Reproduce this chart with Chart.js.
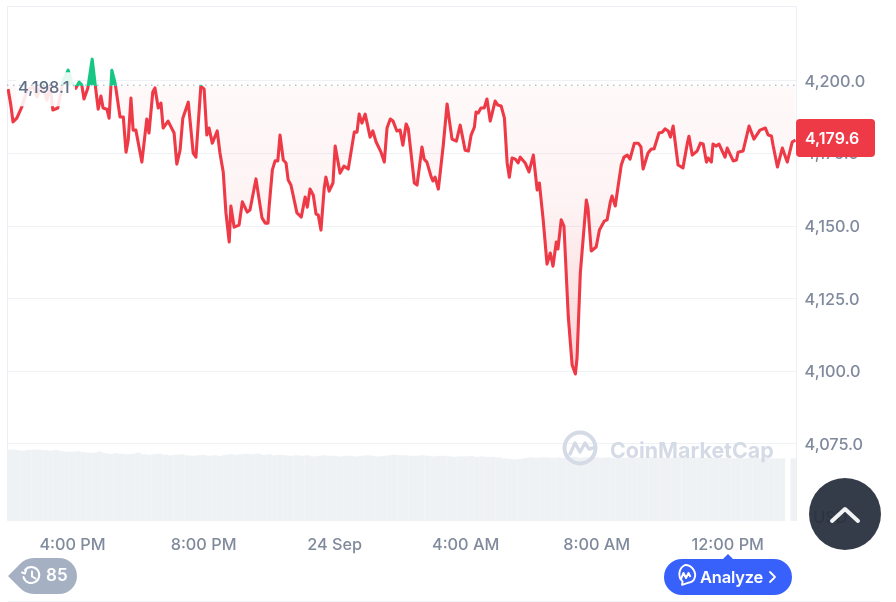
<!DOCTYPE html>
<html>
<head>
<meta charset="utf-8">
<script src="https://cdn.jsdelivr.net/npm/chart.js@4/dist/chart.umd.min.js"></script>
<style>
  html, body { margin: 0; padding: 0; background: #fff; width: 896px; height: 602px; overflow: hidden; font-family: Inter, sans-serif; }
  #wrap { position: relative; width: 896px; height: 602px; }
  canvas { position: absolute; left: 0; top: 0; }
  .abs { position: absolute; }
  #mark { left: 562px; top: 429px; width: 220px; height: 38px; color: #d5dbe6; font-weight: 700; font-size: 21.4px; line-height: 42px; }
  #mark span { position: absolute; left: 48px; top: 0; letter-spacing: 0; }
  #up { left: 809px; top: 478px; width: 72px; height: 72px; border-radius: 50%; background: rgba(45, 52, 66, 0.96); }
  #hist { left: 8px; top: 558px; }
  #hist b { position: absolute; left: 38px; top: 7px; color: #fff; font-size: 17px; font-weight: 600; line-height: 21px; }
  #ana { left: 664px; top: 553px; }
  #ana b { position: absolute; left: 36px; top: 14px; color: #fff; font-size: 16.5px; font-weight: 600; line-height: 21px; letter-spacing: -0.2px; }
  #rule { left: 8px; top: 601px; width: 872px; height: 1px; background: #eff2f5; }
</style>
</head>
<body>
<div id="wrap">
  <canvas id="chart" width="896" height="602"></canvas>
  <div id="mark" class="abs">
    <svg width="38" height="38" viewBox="0 0 38 38" style="position:absolute;left:0;top:0"><circle cx="18" cy="19" r="15.5" fill="none" stroke="#d5dbe6" stroke-width="4"/><path d="M8 25l5-11 5 9 5-9 4 6 4-1" fill="none" stroke="#d5dbe6" stroke-width="3.4" stroke-linejoin="round" stroke-linecap="round"/></svg>
    <span>CoinMarketCap</span>
  </div>
  <div id="up" class="abs">
    <svg width="72" height="72"><path d="M23 43l13-12 13 12" fill="none" stroke="#f2f3f5" stroke-width="4" stroke-linecap="round" stroke-linejoin="round"/></svg>
  </div>
  <div id="hist" class="abs">
    <svg width="70" height="36"><path d="M0 18L11 7Q17 0 26 0H51a18 18 0 0 1 0 36H26Q17 36 11 29Z" fill="#a6b0c3"/><g fill="none" stroke="#fff" stroke-width="2" stroke-linecap="round" stroke-linejoin="round"><path d="M17 12a8 8 0 1 1-1.5 7"/><path d="M14 14.5l3 1 1-3.5"/><path d="M24 13.5v5l3.5 2"/></g></svg>
    <b>85</b>
  </div>
  <div id="ana" class="abs">
    <svg width="128" height="42"><path d="M59 6l5-5 5 5Z" fill="#3861fb"/><rect x="0" y="6" width="128" height="36" rx="18" fill="#3861fb"/><path d="M21 13a10 10 0 0 1 9 14.500c-.8 1.500-4 3-6 3.300l-6 2 .6-3.400A10 10 0 0 1 21 13Z" transform="translate(0 -1)" fill="none" stroke="#fff" stroke-width="1.900" stroke-linejoin="round"/><path d="M16.500 27l3-7 2.500 5 2.500-5 2 4" fill="none" stroke="#fff" stroke-width="2" stroke-linejoin="round"/><path d="M106 19l5 5-5 5" fill="none" stroke="#fff" stroke-width="1.800" stroke-linecap="round" stroke-linejoin="round"/></svg>
    <b>Analyze</b>
  </div>
  <div id="rule" class="abs"></div>
</div>
<script>
// minutes since the left edge of the chart (2:00 PM)
const times = [2,7,11,18,27,37,48,55,64,73,79,84,93,103,112,119,126,132,137,141,148,156,161,167,172,176,183,187,192,198,207,213,218,222,227,231,236,247,256,260,267,271,277,282,286,295,306,311,317,322,332,341,346,355,361,366,370,376,385,390,396,401,407,410,416,425,431,440,445,456,467,473,478,480,486,491,496,500,506,511,515,520,531,539,546,550,555,561,566,570,575,581,584,590,597,601,610,617,625,636,641,645,650,656,665,670,676,685,691,696,702,707,714,720,725,731,735,746,751,760,764,769,777,780,784,790,799,806,815,823,830,839,845,850,856,859,863,868,874,879,885,894,899,905,911,916,920,925,931,936,940,949,956,964,971,975,982,989,995,1000,1006,1009,1015,1020,1028,1035,1041,1044,1050,1061,1064,1070,1079,1085,1094,1099,1105,1108,1114,1119,1125,1130,1136,1141,1149,1156,1161,1165,1174,1180,1185,1194,1200,1205,1211,1215,1220,1229,1238,1246,1249,1255,1264,1270,1275,1281,1284,1290,1293,1299,1304,1315,1319,1330,1336,1339,1348,1359,1368,1379,1389,1394,1400,1403,1411,1420,1429,1438,1444];
const prices = [4197.1,4191.6,4185.8,4187.1,4190.9,4196.8,4197.8,4194.4,4199.2,4193.3,4197.8,4189.9,4190.6,4200.2,4203.6,4199.2,4197.4,4199.5,4198.5,4193.7,4197.4,4207.4,4199.5,4190.2,4194.7,4190.6,4190.2,4187.1,4203.6,4199.2,4187.5,4187.5,4175.4,4179.6,4194.0,4183.0,4183.0,4172.0,4186.8,4182.0,4196.1,4197.5,4190.6,4192.3,4183.7,4186.1,4182.0,4171.3,4176.1,4187.1,4192.6,4175.1,4173.7,4198.1,4197.1,4181.3,4183.7,4178.5,4182.7,4175.1,4168.6,4154.5,4144.5,4156.9,4149.6,4150.3,4158.3,4154.8,4155.5,4166.2,4152.8,4151.0,4151.0,4156.5,4169.3,4172.4,4172.4,4181.3,4172.7,4171.7,4165.8,4164.1,4154.5,4153.1,4160.0,4156.5,4162.7,4160.6,4154.1,4153.8,4148.6,4163.1,4166.8,4162.0,4164.8,4177.5,4168.2,4170.6,4169.6,4182.3,4182.3,4188.5,4185.4,4188.5,4180.6,4182.7,4178.9,4175.4,4172.0,4183.7,4186.8,4186.1,4182.7,4183.0,4177.8,4185.1,4183.4,4164.8,4164.1,4177.2,4173.0,4172.0,4166.8,4165.5,4166.8,4162.7,4177.8,4192.0,4179.9,4179.2,4184.7,4176.1,4175.8,4181.3,4184.0,4189.2,4188.9,4190.6,4190.6,4193.7,4186.1,4193.0,4191.6,4191.3,4187.1,4171.7,4166.8,4173.4,4173.0,4171.7,4173.7,4171.7,4168.6,4174.4,4162.4,4164.8,4152.1,4136.9,4140.7,4136.2,4144.5,4142.1,4152.1,4150.0,4118.7,4102.2,4099.1,4104.6,4133.8,4158.9,4156.2,4141.4,4142.8,4148.6,4151.7,4152.1,4158.3,4160.3,4156.9,4163.4,4171.0,4173.7,4174.4,4173.0,4178.5,4178.5,4177.2,4169.6,4175.1,4176.5,4176.5,4182.0,4182.3,4183.4,4182.7,4180.6,4184.4,4171.0,4170.0,4178.5,4180.9,4174.4,4175.8,4178.5,4178.2,4172.0,4173.4,4172.0,4178.2,4177.5,4178.2,4173.7,4176.8,4172.4,4172.7,4175.4,4175.8,4184.4,4179.9,4183.0,4183.7,4181.3,4181.0,4177.8,4170.3,4176.8,4172.0,4178.9,4179.6];

// volume read every 10 minutes, empty slot = no bar
const volumes = [13.8,13.8,13.7,13.6,13.7,13.8,13.8,13.7,13.6,13.7,
  13.5,13.4,13.4,13.5,13.3,13.2,13.2,13.4,13.1,13.0,
  13.1,13.0,12.9,13.0,13.2,12.9,12.8,12.9,13.0,12.8,
  12.7,12.8,12.9,12.7,12.6,12.7,12.8,12.6,12.7,12.6,
  12.8,12.9,12.8,12.9,13.0,12.9,13.0,12.8,12.9,12.7,
  12.8,12.7,12.6,12.7,12.6,12.7,12.5,12.6,12.7,12.6,
  12.6,12.5,12.6,12.6,12.5,12.6,12.7,12.6,12.5,12.6,
  12.7,12.8,12.7,12.7,12.6,12.6,12.7,12.6,12.5,12.6,
  12.6,12.5,12.4,12.5,12.5,12.6,12.4,12.5,12.4,12.4,
  12.3,12.1,12.0,11.9,12.0,12.2,12.3,12.2,12.3,12.3,
  12.2,12.3,12.2,12.3,12.4,12.2,12.3,12.2,12.3,12.2,
  12.3,12.2,12.3,12.2,12.3,12.2,12.3,12.2,12.3,12.2,
  12.3,12.2,12.2,12.3,12.2,12.3,12.2,12.3,12.2,12.2,
  12.3,12.2,12.2,12.1,12.2,12.1,12.2,12.2,12.1,12.2,
  12.1,12.1,12.1,null,12.1];

const xTickMinutes = [120, 360, 600, 840, 1080, 1320];
const xTickLabels = ["4:00 PM", "8:00 PM", "24 Sep", "4:00 AM", "8:00 AM", "12:00 PM"];
const yTicks = [4050, 4075, 4100, 4125, 4150, 4175, 4200];
const basePrice = 4198.1;

const RED = "#ee3a47", GREEN = "#16c784", GRID = "#eff2f5", LABEL = "#808a9d";

const fmt = v => v.toLocaleString("en-US", { minimumFractionDigits: 1, maximumFractionDigits: 1 });

// frame, dotted base line, base label and the last price badge
const overlay = {
  id: "overlay",
  beforeDraw(chart) {
    // the y labels sit a pixel low in the original
    chart.scales.y.getLabelItems().forEach(it => {
      if (!it.moved) { it.moved = true; it.options.translation[1] += 1; }
    });
  },
  beforeDatasetsDraw(chart) {
    const { ctx, chartArea: a } = chart;
    ctx.save();
    ctx.strokeStyle = "#eceff3";
    ctx.lineWidth = 1;
    ctx.beginPath();
    ctx.moveTo(a.left + 0.5, a.bottom);
    ctx.lineTo(a.left + 0.5, a.top + 0.5);
    ctx.lineTo(a.right + 0.5, a.top + 0.5);
    ctx.lineTo(a.right + 0.5, a.bottom);
    ctx.stroke();
    ctx.restore();
  },
  afterDatasetsDraw(chart) {
    const { ctx, chartArea: a, scales } = chart;
    const by = scales.y.getPixelForValue(basePrice);
    ctx.save();
    ctx.fillStyle = "rgba(255,255,255,0.88)";
    ctx.beginPath();
    ctx.roundRect(16, by - 14, 59, 34, 4);
    ctx.fill();
    ctx.strokeStyle = "#9aa3b2";
    ctx.lineWidth = 1;
    ctx.setLineDash([1.5, 4.5]);
    ctx.beginPath();
    ctx.moveTo(a.left, by - 1);
    ctx.lineTo(a.right, by - 1);
    ctx.stroke();
    ctx.setLineDash([]);
    ctx.fillStyle = "#616e85";
    ctx.font = "500 16.5px Inter";
    ctx.textBaseline = "middle";
    ctx.fillText(fmt(basePrice), 18, by + 2);

    const last = prices[prices.length - 1];
    const py = scales.y.getPixelForValue(last) - 2;
    ctx.fillStyle = RED;
    ctx.beginPath();
    ctx.roundRect(a.right, py - 19, 79, 38, 4);
    ctx.fill();
    ctx.fillStyle = "#fff";
    ctx.font = "600 16px Inter";
    ctx.fillText(fmt(last), a.right + 9, py + 1);
    ctx.restore();
  }
};

const chart = new Chart(document.getElementById("chart"), {
  data: {
    datasets: [
      {
        type: "line",
        order: 1,
        data: times.map((t, i) => ({ x: t, y: prices[i] })),
        borderColor: RED,
        borderWidth: 3.1,
        borderJoinStyle: "round",
        pointRadius: 0,
        tension: 0,
        yAxisID: "y",
        fill: { target: { value: basePrice }, above: GREEN, below: "rgba(234,57,67,0.05)" }
      },
      {
        type: "bar",
        order: 2,
        data: volumes.map((v, i) => ({ x: i * 10, y: v })),
        backgroundColor: GRID,
        barThickness: 5,
        grouped: false,
        yAxisID: "vol"
      }
    ]
  },
  options: {
    responsive: false,
    animation: false,
    events: [],
    layout: { padding: { left: 7, top: 6, right: 0, bottom: 0 } },
    plugins: { legend: { display: false }, tooltip: { enabled: false } },
    scales: {
      x: {
        type: "linear",
        min: 0,
        max: 1445,
        offset: false,
        grid: { display: false },
        border: { display: false },
        afterBuildTicks: s => { s.ticks = xTickMinutes.map(value => ({ value })); },
        afterFit: s => { s.height = 81; s.paddingLeft = 0; s.paddingRight = 0; },
        ticks: {
          autoSkip: false,
          maxRotation: 0,
          padding: 6,
          color: LABEL,
          font: { family: "Inter", size: 16.3, weight: "500" },
          callback: v => xTickLabels[xTickMinutes.indexOf(v)]
        }
      },
      y: {
        position: "right",
        min: 4048.5,
        max: 4225.7,
        border: { display: false },
        grid: { color: c => (c.tick && c.tick.value === 4050 ? "transparent" : GRID), drawTicks: false, lineWidth: 1 },
        afterBuildTicks: s => { s.ticks = yTicks.map(value => ({ value })); },
        afterFit: s => { s.width = 100; s.paddingTop = 0; s.paddingBottom = 0; },
        ticks: {
          padding: 8.5,
          color: c => (c.tick.value === 4050 ? "#232936" : LABEL),
          font: { family: "Inter", size: 16.3, weight: "500" },
          callback: v => (v === 4050 ? "\u00A0\u00A0USD" : fmt(v))
        }
      },
      vol: { display: false, min: 0, max: 100 }
    }
  },
  plugins: [overlay]
});

// colours that depend on where the base price lands on the y scale
const ctx = chart.ctx, ys = chart.scales.y, area = chart.chartArea;
const basePx = ys.getPixelForValue(basePrice);
const split = (basePx - area.top) / (area.bottom - area.top);
const stroke = ctx.createLinearGradient(0, area.top, 0, area.bottom);
stroke.addColorStop(0, GREEN);
stroke.addColorStop(split, GREEN);
stroke.addColorStop(split, RED);
stroke.addColorStop(1, RED);
// stop the green a little above the base so it leaves no hairline along it
const over = ctx.createLinearGradient(0, area.top, 0, basePx);
const cut = 1 - 1.5 / (basePx - area.top);
over.addColorStop(0, GREEN);
over.addColorStop(cut, GREEN);
over.addColorStop(cut, "rgba(22,199,132,0)");
over.addColorStop(1, "rgba(22,199,132,0)");
const under = ctx.createLinearGradient(0, basePx, 0, ys.getPixelForValue(4099));
under.addColorStop(0, "rgba(234,57,67,0.03)");
under.addColorStop(0.4, "rgba(234,57,67,0.06)");
under.addColorStop(1, "rgba(234,57,67,0.22)");
const line = chart.data.datasets[0];
line.borderColor = stroke;
line.fill.above = over;
line.fill.below = under;
chart.update("none");
</script>
</body>
</html>
